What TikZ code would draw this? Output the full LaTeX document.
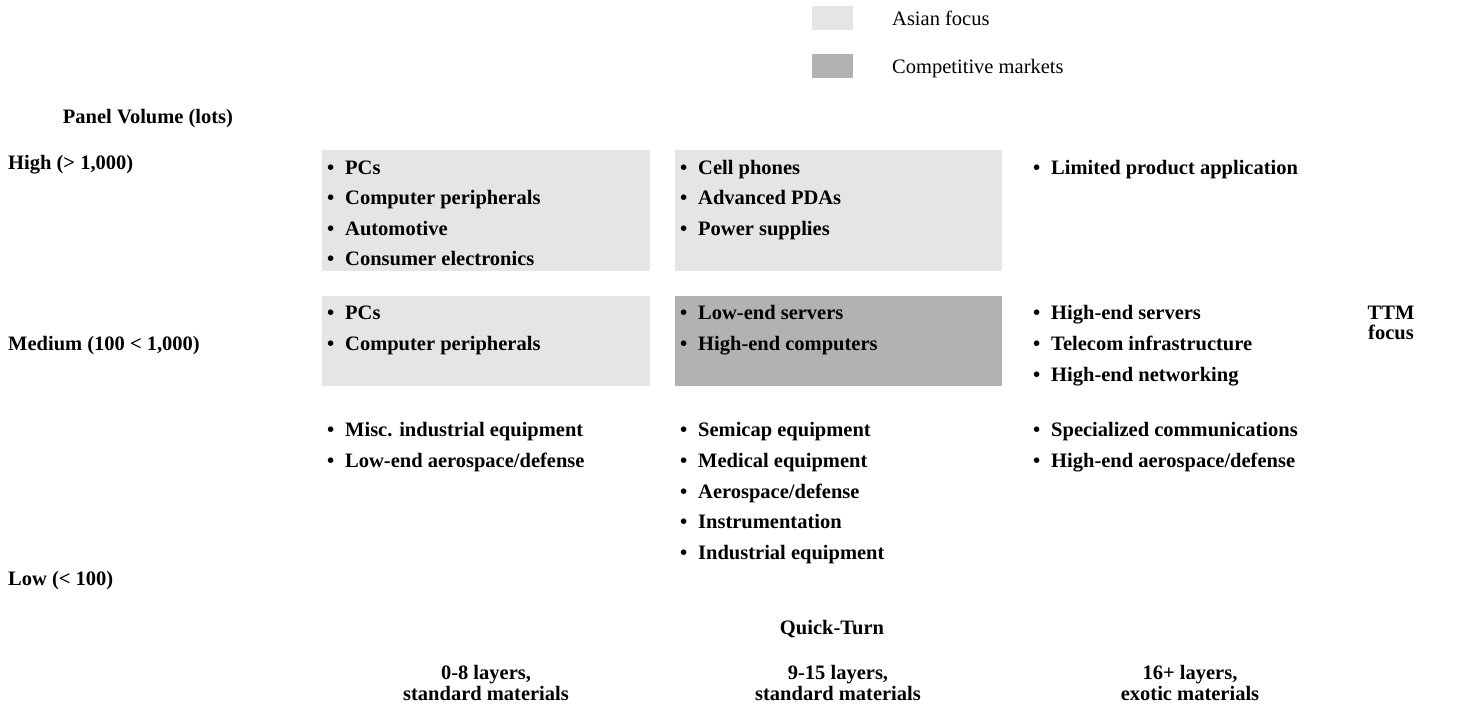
\documentclass[tikz,border=0pt]{standalone}
\usepackage{fontspec}
\setmainfont{Liberation Serif}
\definecolor{asian}{HTML}{E5E5E5}
\definecolor{compet}{HTML}{B2B2B2}
\tikzset{
  lbl/.style={inner sep=0pt, anchor=base west, font=\fontsize{20.5}{24}\selectfont\bfseries},
  clbl/.style={inner sep=0pt, anchor=base, font=\fontsize{20.5}{24}\selectfont\bfseries, align=center},
  leg/.style={inner sep=0pt, anchor=base west, font=\fontsize{20.5}{24}\selectfont},
  bul/.style={inner sep=0pt, anchor=base west, font=\fontsize{20.5}{24}\selectfont\bfseries},
  abox/.style={fill=asian, draw=none},
  cbox/.style={fill=compet, draw=none},
}
\newcommand{\items}[4]{% name, xbullet, xtext, list of y/{text}
  \foreach \yy/\tt [count=\i] in {#4} {
    \node[bul] (#1b\i) at (#2,\yy) {•};
    \node[lbl] (#1t\i) at (#3,\yy) {\tt};
  }
}
\begin{document}
\begin{tikzpicture}[x=1pt,y=-1pt]
\useasboundingbox (0,0) rectangle (1479,704);
% legend
\fill[abox] (812,6) rectangle (853,30);
\node[leg] (legA) at (892,25) {Asian focus};
\fill[cbox] (812,54) rectangle (853,78);
\node[leg] (legC) at (892,73) {Competitive markets};
% axis labels
\node[clbl] (pv) at (148,123) {Panel Volume (lots)};
\node[lbl] (high) at (8,169) {High (> 1,000)};
\node[lbl] (med) at (8,350) {Medium (100 < 1,000)};
\node[lbl] (low) at (8,585) {Low (< 100)};
% boxes
\fill[abox] (322,150) rectangle (650,271);
\fill[abox] (675,150) rectangle (1002,271);
\fill[abox] (322,296) rectangle (650,386);
\fill[cbox] (675,296) rectangle (1002,386);
% row 1
\items{a}{327}{345}{174/{PCs},204/{Computer peripherals},235/{Automotive},265/{Consumer electronics}}
\items{b}{680}{698}{174/{Cell phones},204/{Advanced PDAs},235/{Power supplies}}
\items{c}{1033}{1051}{174/{Limited product application}}
% row 2
\items{d}{327}{345}{319/{PCs},350/{Computer peripherals}}
\items{e}{680}{698}{319/{Low-end servers},350/{High-end computers}}
\items{f}{1033}{1051}{319/{High-end servers},350/{Telecom infrastructure},381/{High-end networking}}
% row 3
\items{g}{327}{345}{436/{Misc. industrial equipment},467/{Low-end aerospace/defense}}
\items{h}{680}{698}{436/{Semicap equipment},467/{Medical equipment},498/{Aerospace/defense},528/{Instrumentation},559/{Industrial equipment}}
\items{k}{1033}{1051}{436/{Specialized communications},467/{High-end aerospace/defense}}
% TTM focus
\node[clbl] (ttm1) at (1391,319) {TTM};
\node[clbl] (ttm2) at (1391,339) {focus};
% bottom
\node[clbl] (qt) at (832,634) {Quick-Turn};
\node[clbl] (x1a) at (486,679) {0-8 layers,};
\node[clbl] (x1b) at (486,700) {standard materials};
\node[clbl] (x2a) at (838,679) {9-15 layers,};
\node[clbl] (x2b) at (838,700) {standard materials};
\node[clbl] (x3a) at (1190,679) {16+ layers,};
\node[clbl] (x3b) at (1190,700) {exotic materials};
\end{tikzpicture}
\end{document}
